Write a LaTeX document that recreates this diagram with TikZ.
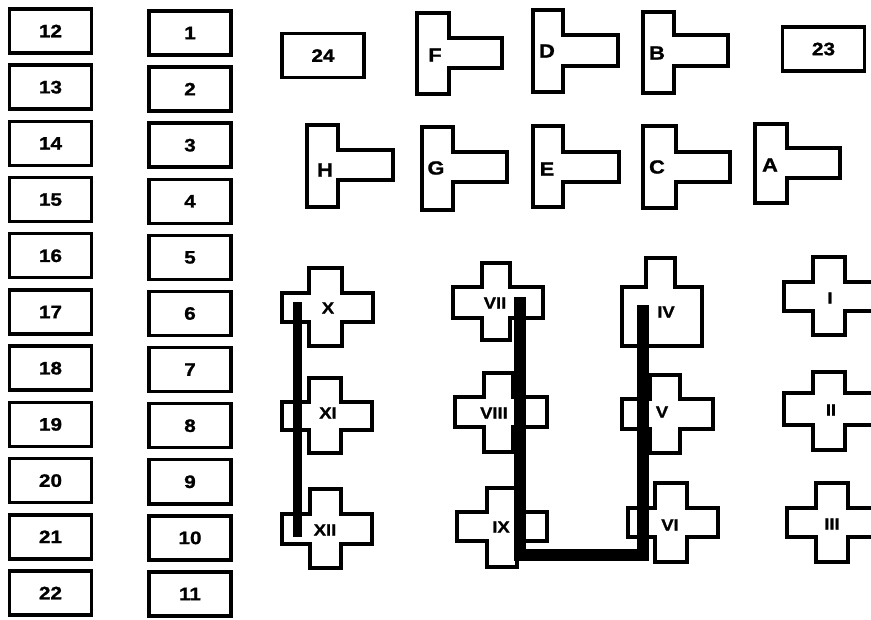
\documentclass[tikz,border=0pt]{standalone}
\usepackage{fontspec}
\newfontfamily\labfont{Liberation Sans}[FakeStretch=1.15,FakeBold=1.2]
\tikzset{
  outl/.style={draw=black, line width=3.4pt, fill=white, line join=miter},
  numbox/.style={draw=black, line width=3.4pt, fill=white, minimum width=82pt, minimum height=44pt, inner sep=0pt,
    font=\labfont\bfseries\fontsize{18}{18}\selectfont},
  lab/.style={inner sep=0pt, font=\labfont\bfseries\fontsize{19}{19}\selectfont},
  rom/.style={inner sep=0pt, font=\labfont\bfseries\fontsize{16}{16}\selectfont},
  bus/.style={draw=black, line width=12pt, line join=miter, line cap=butt},
  busthin/.style={draw=black, line width=9pt, line cap=butt}
}
% T shape: vx1 vx2 vy1 vy2 ax2 ay1 ay2
\newcommand\tshp[7]{\draw[outl] (#1,#3) -- (#2,#3) -- (#2,#6) -- (#5,#6) -- (#5,#7) -- (#2,#7) -- (#2,#4) -- (#1,#4) -- cycle;}
% plus shape: vx1 vx2 vy1 vy2 hx1 hx2 hy1 hy2
\newcommand\pshp[8]{\draw[outl] (#1,#3) -- (#2,#3) -- (#2,#7) -- (#6,#7) -- (#6,#8) -- (#2,#8) -- (#2,#4) -- (#1,#4) -- (#1,#8) -- (#5,#8) -- (#5,#7) -- (#1,#7) -- cycle;}
\begin{document}
\begin{tikzpicture}[x=1pt, y=-1pt]
\fill[white] (0,0) rectangle (871,620);
\useasboundingbox (0,0) rectangle (871,620);
\clip (0,0) rectangle (871,620);

% numbered boxes
\foreach \i [count=\k from 0] in {12,13,14,15,16,17,18,19,20,21,22}
  \node[numbox] (n\i) at (50.5,{31+56.2*\k}) {\i};
\foreach \i in {1,...,11}
  \node[numbox] (n\i) at (190,{33+56.1*(\i-1)}) {\i};
\node[numbox] (n24) at (323,55.5) {24};
\node[numbox] (n23) at (823.5,49) {23};

% T shapes, top row
\tshp{417}{449}{13}{94}{502}{38}{68}
\node[lab] (tF) at (435,55) {F};
\tshp{533}{563}{10}{92}{618}{35}{66}
\node[lab] (tD) at (547,51) {D};
\tshp{643}{674}{12}{93}{728}{35}{66}
\node[lab] (tB) at (657,53) {B};
% T shapes, second row
\tshp{307}{338}{125}{207}{393}{150}{180}
\node[lab] (tH) at (325,170) {H};
\tshp{422}{453}{127}{210}{507}{152}{182}
\node[lab] (tG) at (436,168) {G};
\tshp{533}{563}{126}{207}{619}{152}{182}
\node[lab] (tE) at (547,169) {E};
\tshp{643}{676}{126}{208}{730}{152}{182}
\node[lab] (tC) at (657,167) {C};
\tshp{755}{787}{124}{203}{840}{148}{178}
\node[lab] (tA) at (770,165) {A};

% crosses
\pshp{309}{342}{268}{346}{282}{373}{293}{322}
\node[rom] (cX) at (328,308) {X};
\pshp{309}{341}{378}{453}{282}{372}{402}{430}
\node[rom] (cXI) at (328,413) {XI};
\pshp{310}{341}{489}{568}{282}{372}{514}{544}
\node[rom] (cXII) at (325,530) {XII};
\pshp{482}{510}{263}{340}{453}{543}{287}{318}
\node[rom] (cVII) at (495,303) {VII};
\pshp{484}{513}{373}{452}{455}{547}{397}{427}
\node[rom] (cVIII) at (494,413) {VIII};
\pshp{487}{517}{488}{567}{457}{547}{512}{541}
\node[rom] (cIX) at (501,527) {IX};
\draw[outl] (622,287) -- (646,287) -- (646,258) -- (675,258) -- (675,287) -- (702,287) -- (702,346) -- (622,346) -- cycle;
\node[rom] (cIV) at (666,312) {IV};
\pshp{650}{680}{375}{453}{622}{713}{399}{429}
\node[rom] (cV) at (662,412) {V};
\pshp{655}{687}{483}{562}{628}{718}{508}{537}
\node[rom] (cVI) at (670,525) {VI};
\pshp{813}{845}{257}{335}{784}{875}{282}{311}
\node[rom] (cI) at (830,298) {I};
\pshp{813}{845}{372}{450}{784}{875}{393}{425}
\node[rom] (cII) at (831,410) {II};
\pshp{816}{848}{483}{562}{787}{878}{508}{537}
\node[rom] (cIII) at (832,524) {III};

% heavy links
\coordinate (ba) at (297.5,302);
\coordinate (bb) at (297.5,537);
\draw[busthin] (ba) -- (bb);
\coordinate (b2a) at (520,297);
\coordinate (b2b) at (520,555);
\coordinate (b2c) at (643,555);
\coordinate (b2d) at (643,305);
\draw[bus] (b2a) -- (b2b) -- (b2c) -- (b2d);
\end{tikzpicture}
\end{document}
